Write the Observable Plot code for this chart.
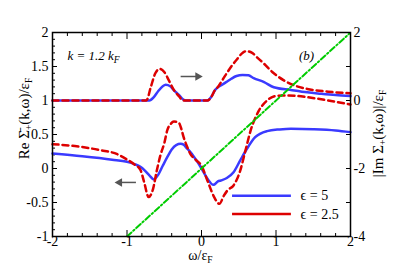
<!DOCTYPE html>
<html><head><meta charset="utf-8">
<script src="https://cdn.jsdelivr.net/npm/d3@7"></script>
<script src="https://cdn.jsdelivr.net/npm/@observablehq/plot@0.6"></script>
<style>
html,body{margin:0;padding:0;background:#fff}
</style>
</head><body><div id="chart"></div>
<script>
// Re Σ (left axis), ε = 5
const reX5 = [-2, -1.6, -1.2, -1.0, -0.9, -0.82, -0.76, -0.7, -0.64, -0.58, -0.52, -0.46, -0.4, -0.34, -0.28, -0.24, -0.2, -0.16, -0.1, -0.05, 0, 0.08, 0.16, 0.22, 0.26, 0.34, 0.43, 0.52, 0.61, 0.72, 0.88, 1.05, 1.2, 1.5, 1.8, 2];
const reY5 = [0.22, 0.18, 0.13, 0.098, 0.065, 0.025, -0.03, -0.1, -0.16, -0.09, 0.04, 0.166, 0.28, 0.345, 0.363, 0.35, 0.3, 0.255, 0.17, 0.09, 0.0, -0.15, -0.24, -0.19, -0.176, -0.14, -0.055, 0.12, 0.29, 0.46, 0.55, 0.575, 0.585, 0.578, 0.56, 0.535];
// Re Σ (left axis), ε = 2.5
const reX25 = [-2, -1.7, -1.36, -1.13, -1.0, -0.9, -0.82, -0.77, -0.71, -0.65, -0.6, -0.55, -0.5, -0.46, -0.41, -0.37, -0.31, -0.27, -0.24, -0.2, -0.15, -0.08, 0, 0.08, 0.17, 0.24, 0.3, 0.35, 0.43, 0.52, 0.59, 0.66, 0.77, 0.88, 0.97, 1.08, 1.25, 1.42, 1.7, 2];
const reY25 = [0.357, 0.33, 0.27, 0.21, 0.132, 0.06, -0.02, -0.2, -0.42, -0.3, -0.03, 0.2, 0.37, 0.56, 0.66, 0.69, 0.68, 0.58, 0.46, 0.34, 0.216, 0.13, 0.04, -0.18, -0.42, -0.52, -0.4, -0.32, -0.25, -0.03, 0.265, 0.56, 0.85, 1.0, 1.06, 1.074, 1.07, 1.049, 1.0, 0.941];
// |Im Σ| (right axis), ε = 5
const imX5 = [-2, -0.7, -0.64, -0.58, -0.52, -0.48, -0.42, -0.37, -0.3, -0.25, -0.21, 0.08, 0.13, 0.18, 0.21, 0.26, 0.33, 0.4, 0.47, 0.55, 0.63, 0.7, 0.84, 0.97, 1.2, 1.42, 1.6, 1.8, 2];
const imY5 = [0, 0, 0.1, 0.28, 0.42, 0.46, 0.42, 0.3, 0.16, 0.04, 0, 0, 0.1, 0.3, 0.37, 0.44, 0.54, 0.64, 0.72, 0.75, 0.74, 0.66, 0.54, 0.39, 0.31, 0.24, 0.2, 0.16, 0.13];
// |Im Σ| (right axis), ε = 2.5
const imX25 = [-2, -0.74, -0.68, -0.62, -0.56, -0.5, -0.44, -0.38, -0.3, -0.25, 0.08, 0.13, 0.18, 0.21, 0.28, 0.35, 0.42, 0.48, 0.54, 0.6, 0.68, 0.76, 0.84, 0.95, 1.1, 1.25, 1.42, 1.7, 2];
const imY25 = [0, 0, 0.4, 0.8, 0.93, 0.84, 0.6, 0.34, 0.12, 0, 0, 0.1, 0.3, 0.37, 0.6, 0.84, 1.06, 1.22, 1.38, 1.45, 1.4, 1.24, 1.08, 0.84, 0.6, 0.44, 0.34, 0.26, 0.21];
// ω line (green dash-dot)
const lineX = [-1, 2];
const lineY = [-1, 2];

// ticks
const xMajor = [-2, -1, 0, 1, 2];
const xMinor = d3.range(-2, 2.001, 0.2).map(v => +v.toFixed(1)).filter(v => !xMajor.includes(v));
const yMajor = [-1, -0.5, 0, 0.5, 1, 1.5, 2];
const yMinor = d3.range(-1, 2.001, 0.1).map(v => +v.toFixed(1)).filter(v => !yMajor.includes(v));
const rTicks = [-4, -3, -2, -1, 0, 1, 2];

// annotations
const seriesNames = ["ϵ = 5", "ϵ = 2.5"];
const seriesColors = ["#3a3aff", "#dd0000"];
const legendX = [0.41, 1.2, 1.33];
const legendY = [-0.40, -0.67];
const arrowLeft = [{x1: -0.88, x2: -1.10, y: -0.205}];
const arrowRight = [{x1: -0.28, x2: -0.05, y: 1.353}];
const noteK = [{x: -1.8, y: 1.66, text: "k = 1.2 k_F"}];
const noteB = [{x: 1.41, y: 1.66, text: "(b)"}];

// right axis (|Im Σ|) mapped onto left scale
const toLeft = r => 1 + r / 2;
const fromLeft = v => Math.round((v - 1) * 2);

const re5 = reX5.map((x, i) => ({x, y: reY5[i]}));
const re25 = reX25.map((x, i) => ({x, y: reY25[i]}));
const im5 = imX5.map((x, i) => ({x, y: toLeft(imY5[i])}));
const im25 = imX25.map((x, i) => ({x, y: toLeft(imY25[i])}));
const green = lineX.map((x, i) => ({x, y: lineY[i]}));

const serif = "'Liberation Serif', 'Times New Roman', 'DejaVu Serif', serif";
const fs = 14;
const arrowColor = "#555";
const plot = Plot.plot({
  width: 399, height: 266,
  marginLeft: 52, marginRight: 49, marginTop: 32, marginBottom: 30,
  style: `font-family: ${serif}; font-size: ${fs}px; background: white; color: black;`,
  x: {domain: [-2, 2]},
  y: {domain: [-1, 2]},
  marks: [
    // ticks & labels
    Plot.axisX(xMajor, {anchor: "bottom", tickSize: -6, tickPadding: 6, fontSize: fs, tickFormat: d => String(d), label: null}),
    Plot.axisX(xMinor, {anchor: "bottom", tickSize: -3, tickFormat: () => "", label: null}),
    Plot.axisX(xMajor, {anchor: "top", tickSize: -6, tickFormat: () => "", label: null}),
    Plot.axisX(xMinor, {anchor: "top", tickSize: -3, tickFormat: () => "", label: null}),
    Plot.axisY(yMajor, {anchor: "left", tickSize: -5, tickPadding: 9, fontSize: fs, tickFormat: d => String(d), label: null}),
    Plot.axisY(yMinor, {anchor: "left", tickSize: -3, tickFormat: () => "", label: null}),
    Plot.axisY(rTicks.map(toLeft), {anchor: "right", tickSize: -5, tickPadding: 8, fontSize: fs,
      tickFormat: v => { const r = fromLeft(v); return r % 2 === 0 ? String(r) : ""; }, label: null}),
    // curves
    Plot.line(re5, {x: "x", y: "y", stroke: seriesColors[0], strokeWidth: 2.5, curve: "monotone-x"}),
    Plot.line(im5, {x: "x", y: "y", stroke: seriesColors[0], strokeWidth: 2.5, curve: "monotone-x"}),
    Plot.line(re25, {x: "x", y: "y", stroke: seriesColors[1], strokeWidth: 2.5, strokeDasharray: "6,4", curve: "monotone-x"}),
    Plot.line(im25, {x: "x", y: "y", stroke: seriesColors[1], strokeWidth: 2.5, strokeDasharray: "6,4", curve: "monotone-x"}),
    Plot.line(green, {x: "x", y: "y", stroke: "#00cc00", strokeWidth: 2, strokeDasharray: "6,2.5,1.5,2.5", clip: true}),
    // arrows: shaft + filled head
    Plot.link([...arrowLeft, ...arrowRight], {x1: "x1", x2: "x2", y1: "y", y2: "y", stroke: arrowColor, strokeWidth: 1.5}),
    Plot.dot(arrowLeft, {x: "x2", y: "y", symbol: "triangle", r: 3.2, fill: arrowColor, stroke: null, rotate: -90}),
    Plot.dot(arrowRight, {x: "x2", y: "y", symbol: "triangle", r: 3.2, fill: arrowColor, stroke: null, rotate: 90}),
    // notes
    Plot.text(noteK, {x: "x", y: "y", text: "text", textAnchor: "start", fontStyle: "italic", fontSize: 13}),
    Plot.text(noteB, {x: "x", y: "y", text: "text", textAnchor: "middle", fontStyle: "italic", fontSize: 13}),
    // legend
    Plot.link(seriesNames, {x1: legendX[0], x2: legendX[1], y1: (d, i) => legendY[i], y2: (d, i) => legendY[i],
      stroke: (d, i) => seriesColors[i], strokeWidth: 2.5, strokeDasharray: (d, i) => i ? "6,4" : null}),
    Plot.text(seriesNames, {x: legendX[2], y: (d, i) => legendY[i], text: d => d, textAnchor: "start", fontSize: 14}),
    // axis titles
    Plot.text(["Re Σ̄_+(k,ω)/ε_F"], {frameAnchor: "left", textAnchor: "middle", lineAnchor: "middle", dx: -28, dy: -16, rotate: -90, fontSize: 15}),
    Plot.text(["|Im Σ_+(k,ω)|/ε_F"], {frameAnchor: "right", textAnchor: "middle", lineAnchor: "middle", dx: 28, dy: -1, rotate: -90, fontSize: 15}),
    Plot.text(["ω/ε_F"], {frameAnchor: "bottom", textAnchor: "middle", lineAnchor: "middle", dx: -1, dy: 19, fontSize: 14}),
    Plot.frame({stroke: "black", strokeWidth: 1.5})
  ]
});

// subscripts: "_X" -> lowered, smaller glyph
d3.select(plot).selectAll("text").each(function() {
  const s = this.textContent;
  if (!s.includes("_")) return;
  const t = d3.select(this);
  const size = parseFloat(t.attr("font-size")) || fs;
  const shift = size * 0.22;
  const italic = s.startsWith("k");
  t.text(null);
  const pieces = s.split("_");
  t.append("tspan").text(pieces[0]);
  for (let j = 1; j < pieces.length; j++) {
    const p = pieces[j];
    t.append("tspan").attr("dy", shift).attr("font-size", size * 0.68)
      .attr("font-style", italic ? "italic" : null).text(p[0]);
    if (p.length > 1) t.append("tspan").attr("dy", -shift).text(p.slice(1));
  }
});
document.getElementById("chart").append(plot);
</script>
</body></html>
